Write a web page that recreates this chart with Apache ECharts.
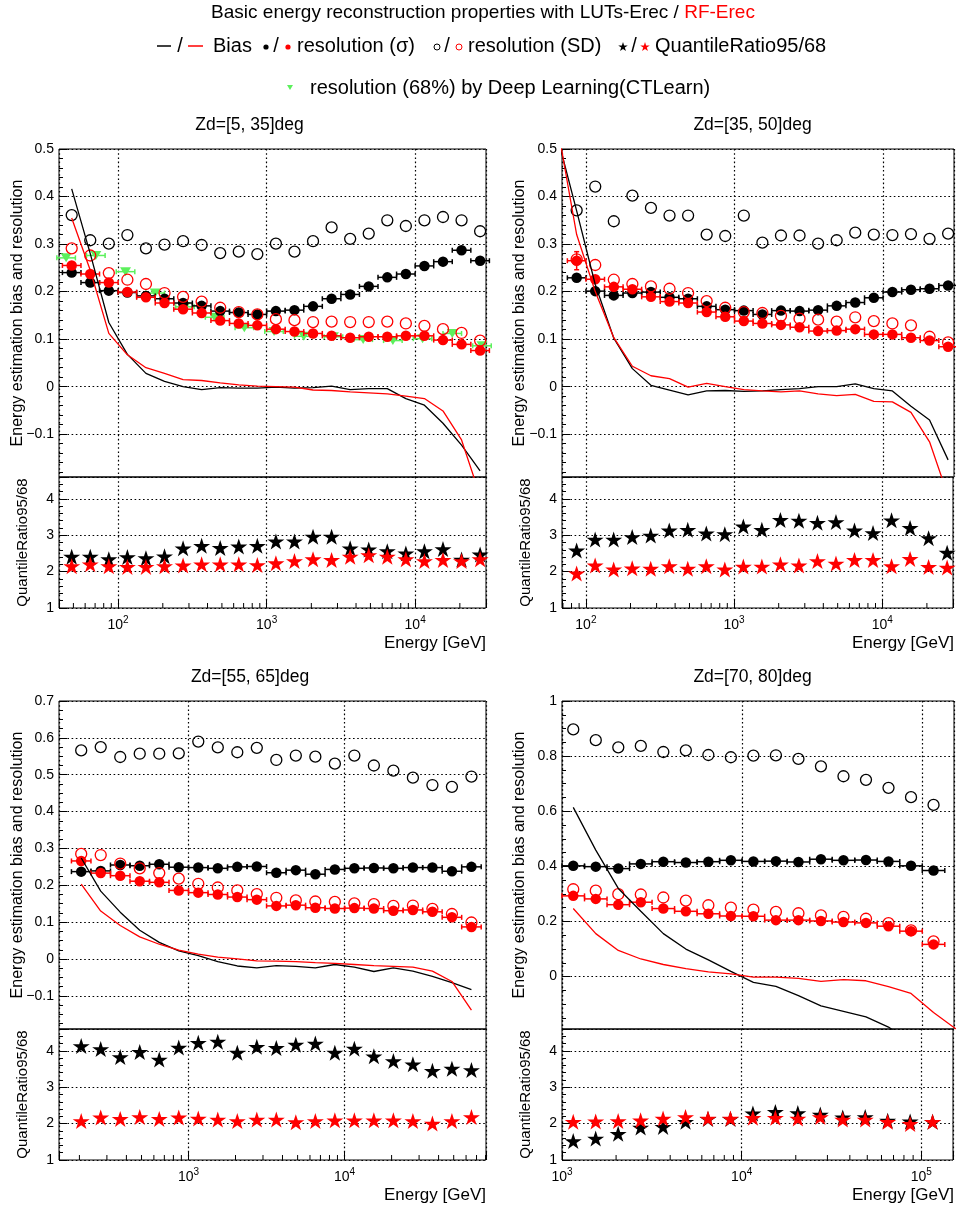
<!DOCTYPE html>
<html><head><meta charset="utf-8">
<script src="https://cdn.jsdelivr.net/npm/echarts@6/dist/echarts.min.js"></script>
<style>html,body{margin:0;padding:0;background:#fff}#c{width:956px;height:1211px}</style>
</head><body><div id="c"></div>
<script>
// ---------------- DATA (log10 of bin-centre energy in GeV) ----------------
// Panel 1  Zd=[5, 35]deg
const P1_LOGE = [1.6875,1.8125,1.9375,2.0625,2.1875,2.3125,2.4375,2.5625,2.6875,2.8125,2.9375,3.0625,3.1875,3.3125,3.4375,3.5625,3.6875,3.8125,3.9375,4.0625,4.1875,4.3125,4.4375];
const P1_SD_LUT  = [0.361,0.308,0.301,0.319,0.291,0.299,0.306,0.298,0.281,0.284,0.279,0.301,0.284,0.306,0.335,0.311,0.322,0.350,0.338,0.350,0.357,0.350,0.327];
const P1_SIG_LUT = [0.240,0.219,0.202,0.198,0.191,0.185,0.176,0.170,0.159,0.156,0.152,0.159,0.161,0.169,0.185,0.194,0.211,0.230,0.237,0.254,0.263,0.287,0.265];
const P1_SD_RF   = [0.291,0.276,0.239,0.225,0.216,0.197,0.189,0.179,0.166,0.157,0.152,0.142,0.140,0.136,0.137,0.136,0.136,0.137,0.133,0.128,0.121,0.113,0.097];
const P1_SIG_RF  = [0.255,0.237,0.219,0.199,0.188,0.176,0.163,0.155,0.139,0.133,0.129,0.121,0.116,0.112,0.107,0.103,0.105,0.105,0.107,0.107,0.098,0.089,0.076];
const P1_BIAS_LOGE = P1_LOGE;
const P1_BIAS_LUT = [0.416,0.280,0.135,0.068,0.028,0.011,0.000,-0.006,-0.002,-0.003,-0.003,-0.001,-0.003,-0.002,0.001,-0.006,-0.004,-0.004,-0.025,-0.039,-0.077,-0.123,-0.177];
const P1_BIAS_RF  = [0.355,0.245,0.112,0.067,0.040,0.028,0.015,0.013,0.008,0.004,0.001,0.000,-0.001,-0.007,-0.008,-0.011,-0.013,-0.015,-0.020,-0.025,-0.051,-0.112,-0.230];
const P1_QR_LUT = [2.41,2.41,2.34,2.40,2.37,2.42,2.64,2.71,2.65,2.69,2.71,2.83,2.83,2.96,2.96,2.64,2.61,2.56,2.50,2.56,2.62,2.33,2.47];
const P1_QR_RF  = [2.15,2.20,2.15,2.13,2.13,2.15,2.17,2.20,2.20,2.20,2.18,2.23,2.29,2.34,2.32,2.41,2.45,2.41,2.34,2.29,2.32,2.29,2.34];
const P1_DL_LOGE = [1.65,1.85,2.05,2.25,2.45,2.65,2.85,3.05,3.25,3.45,3.65,3.85,4.05,4.25,4.45];
const P1_DL_RES  = [0.271,0.276,0.242,0.197,0.168,0.146,0.124,0.116,0.106,0.105,0.099,0.097,0.101,0.112,0.086];

// Panel 2  Zd=[35, 50]deg
const P2_LOGE = [1.9375,2.0625,2.1875,2.3125,2.4375,2.5625,2.6875,2.8125,2.9375,3.0625,3.1875,3.3125,3.4375,3.5625,3.6875,3.8125,3.9375,4.0625,4.1875,4.3125,4.4375];
const P2_SD_LUT  = [0.371,0.421,0.348,0.402,0.376,0.360,0.360,0.320,0.317,0.360,0.303,0.318,0.318,0.301,0.308,0.324,0.320,0.319,0.321,0.311,0.322];
const P2_SIG_LUT = [0.229,0.201,0.192,0.197,0.199,0.188,0.185,0.169,0.162,0.160,0.152,0.160,0.159,0.161,0.170,0.177,0.187,0.199,0.204,0.206,0.213];
const P2_SD_RF   = [0.268,0.256,0.225,0.216,0.211,0.206,0.197,0.180,0.166,0.157,0.155,0.149,0.143,0.141,0.137,0.146,0.138,0.133,0.129,0.105,0.093];
const P2_SIG_RF  = [0.265,0.226,0.210,0.205,0.189,0.179,0.176,0.157,0.147,0.138,0.133,0.130,0.125,0.117,0.118,0.121,0.110,0.110,0.103,0.097,0.084];
const P2_SIG_RF_YERR = [0.019];
const P2_BIAS_LOGE = [1.8125,1.9375,2.0625,2.1875,2.3125,2.4375,2.5625,2.6875,2.8125,2.9375,3.0625,3.1875,3.3125,3.4375,3.5625,3.6875,3.8125,3.9375,4.0625,4.1875,4.3125,4.4375];
const P2_BIAS_LUT = [0.52,0.37,0.215,0.102,0.038,0.003,-0.007,-0.017,-0.009,-0.008,-0.010,-0.009,-0.006,-0.004,0.000,0.000,0.006,-0.004,-0.009,-0.041,-0.070,-0.154];
const P2_BIAS_RF  = [0.54,0.32,0.200,0.103,0.043,0.023,0.017,-0.001,0.007,0.000,-0.006,-0.009,-0.011,-0.009,-0.015,-0.019,-0.016,-0.031,-0.032,-0.054,-0.116,-0.230];
const P2_QR_LUT = [2.58,2.88,2.88,2.95,2.99,3.13,3.15,3.05,3.03,3.24,3.15,3.42,3.40,3.34,3.36,3.13,3.06,3.41,3.20,2.92,2.52];
const P2_QR_RF  = [1.95,2.17,2.06,2.09,2.08,2.15,2.08,2.15,2.06,2.14,2.14,2.20,2.17,2.29,2.22,2.32,2.32,2.15,2.35,2.13,2.11];

// Panel 3  Zd=[55, 65]deg
const P3_LOGE = [2.3125,2.4375,2.5625,2.6875,2.8125,2.9375,3.0625,3.1875,3.3125,3.4375,3.5625,3.6875,3.8125,3.9375,4.0625,4.1875,4.3125,4.4375,4.5625,4.6875,4.8125];
const P3_SD_LUT  = [0.566,0.575,0.548,0.557,0.557,0.558,0.590,0.574,0.561,0.573,0.540,0.552,0.549,0.530,0.552,0.525,0.511,0.492,0.472,0.467,0.495];
const P3_SIG_LUT = [0.237,0.239,0.255,0.253,0.257,0.249,0.248,0.246,0.250,0.251,0.234,0.241,0.230,0.243,0.246,0.247,0.246,0.248,0.248,0.238,0.250];
const P3_SD_RF   = [0.285,0.282,0.259,0.246,0.233,0.218,0.204,0.194,0.186,0.176,0.166,0.159,0.156,0.155,0.151,0.149,0.144,0.145,0.136,0.122,0.099];
const P3_SIG_RF  = [0.266,0.233,0.226,0.211,0.208,0.186,0.180,0.175,0.168,0.161,0.144,0.146,0.139,0.137,0.138,0.137,0.131,0.133,0.128,0.113,0.087];
const P3_BIAS_LOGE = P3_LOGE;
const P3_BIAS_LUT = [0.274,0.184,0.127,0.078,0.045,0.022,0.009,-0.007,-0.019,-0.024,-0.018,-0.020,-0.024,-0.015,-0.022,-0.034,-0.024,-0.033,-0.047,-0.064,-0.083];
const P3_BIAS_RF  = [0.203,0.130,0.091,0.060,0.040,0.024,0.013,0.005,0.000,-0.005,-0.006,-0.007,-0.010,-0.012,-0.015,-0.018,-0.020,-0.022,-0.033,-0.061,-0.139];
const P3_QR_LUT = [4.13,4.05,3.83,3.97,3.76,4.09,4.22,4.25,3.95,4.11,4.08,4.17,4.20,3.95,4.06,3.85,3.72,3.63,3.45,3.51,3.47];
const P3_QR_RF  = [2.07,2.17,2.13,2.18,2.13,2.17,2.14,2.11,2.07,2.11,2.11,2.04,2.07,2.09,2.09,2.09,2.09,2.07,2.00,2.07,2.18];

// Panel 4  Zd=[70, 80]deg
const P4_LOGE = [3.0625,3.1875,3.3125,3.4375,3.5625,3.6875,3.8125,3.9375,4.0625,4.1875,4.3125,4.4375,4.5625,4.6875,4.8125,4.9375,5.0625];
const P4_SD_LUT  = [0.897,0.858,0.832,0.837,0.815,0.821,0.804,0.796,0.802,0.803,0.790,0.763,0.727,0.714,0.685,0.651,0.623];
const P4_SIG_LUT = [0.402,0.399,0.392,0.409,0.417,0.414,0.417,0.422,0.418,0.419,0.416,0.426,0.422,0.423,0.418,0.402,0.385];
const P4_SD_RF   = [0.317,0.312,0.299,0.298,0.287,0.276,0.259,0.250,0.243,0.235,0.230,0.222,0.217,0.210,0.194,0.168,0.128];
const P4_SIG_RF  = [0.293,0.282,0.261,0.270,0.247,0.237,0.228,0.220,0.219,0.205,0.205,0.202,0.198,0.195,0.183,0.165,0.117];
const P4_BIAS_LOGE = [3.0625,3.1875,3.3125,3.4375,3.5625,3.6875,3.8125,3.9375,4.0625,4.1875,4.3125,4.4375,4.5625,4.6875,4.8125,4.9375,5.0625,5.1875];
const P4_BIAS_LUT = [0.614,0.459,0.320,0.237,0.156,0.100,0.061,0.019,-0.021,-0.035,-0.069,-0.106,-0.126,-0.146,-0.183,-0.240,-0.300,-0.360];
const P4_BIAS_RF  = [0.247,0.156,0.095,0.064,0.044,0.029,0.017,0.010,-0.002,-0.002,-0.006,-0.017,-0.011,-0.015,-0.036,-0.061,-0.130,-0.190];
const P4_QR_LUT = [1.52,1.59,1.72,1.89,1.91,2.05,2.13,2.13,2.28,2.32,2.29,2.25,2.17,2.18,2.08,2.06,2.05];
const P4_QR_RF  = [2.05,2.06,2.07,2.09,2.14,2.18,2.14,2.14,2.16,2.16,2.14,2.18,2.11,2.11,2.05,1.99,2.05];

const PANEL_TITLES = ['Zd=[5, 35]deg','Zd=[35, 50]deg','Zd=[55, 65]deg','Zd=[70, 80]deg'];
const MAIN_TITLE_BLACK = 'Basic energy reconstruction properties with LUTs-Erec / ';
const MAIN_TITLE_RED = 'RF-Erec';
const Y_TITLE = 'Energy estimation bias and resolution';
const R_TITLE = 'QuantileRatio95/68';
const X_TITLE = 'Energy [GeV]';

// ---------------- LAYOUT / STYLE ----------------
const FONT = '"Liberation Sans", Arial, Helvetica, sans-serif';
const RED = '#ff0000', BLK = '#000000', GREEN = '#5cf05c';
const STAR = 'path://M0,-100L22.45,-30.9L95.1,-30.9L36.3,11.8L58.8,80.9L0,38.2L-58.8,80.9L-36.3,11.8L-95.1,-30.9L-22.45,-30.9Z';
const HALF_BIN = 0.0625;
const LAYOUT = [
  {left:59, top:149, width:427, mainH:328, ratioH:131, xmin:40,   xmax:30000,  ymax:0.5, ystep:0.1, yminor:5, tx:249.5, ty:125, ytx:18, rtx:23},
  {left:562,top:149, width:392, mainH:328, ratioH:131, xmin:69,   xmax:30000,  ymax:0.5, ystep:0.1, yminor:5, tx:752.5, ty:125, ytx:520, rtx:526},
  {left:59, top:701, width:427, mainH:328, ratioH:131, xmin:148,  xmax:80500,  ymax:0.7, ystep:0.1, yminor:4, tx:250,   ty:677, ytx:18, rtx:23},
  {left:562,top:701, width:392, mainH:328, ratioH:131, xmin:1000, xmax:150000, ymax:1.0, ystep:0.2, yminor:4, tx:752.5, ty:677, ytx:520, rtx:526}
];
const YMIN = -0.19, RMIN = 1, RMAX = 4.6;

const PANELS = [
  {x:P1_LOGE, sdL:P1_SD_LUT, sigL:P1_SIG_LUT, sdR:P1_SD_RF, sigR:P1_SIG_RF, bx:P1_BIAS_LOGE, bL:P1_BIAS_LUT, bR:P1_BIAS_RF, qL:P1_QR_LUT, qR:P1_QR_RF, dlx:P1_DL_LOGE, dly:P1_DL_RES},
  {x:P2_LOGE, sdL:P2_SD_LUT, sigL:P2_SIG_LUT, sdR:P2_SD_RF, sigR:P2_SIG_RF, sigRerr:P2_SIG_RF_YERR, bx:P2_BIAS_LOGE, bL:P2_BIAS_LUT, bR:P2_BIAS_RF, qL:P2_QR_LUT, qR:P2_QR_RF},
  {x:P3_LOGE, sdL:P3_SD_LUT, sigL:P3_SIG_LUT, sdR:P3_SD_RF, sigR:P3_SIG_RF, bx:P3_BIAS_LOGE, bL:P3_BIAS_LUT, bR:P3_BIAS_RF, qL:P3_QR_LUT, qR:P3_QR_RF},
  {x:P4_LOGE, sdL:P4_SD_LUT, sigL:P4_SIG_LUT, sdR:P4_SD_RF, sigR:P4_SIG_RF, bx:P4_BIAS_LOGE, bL:P4_BIAS_LUT, bR:P4_BIAS_RF, qL:P4_QR_LUT, qR:P4_QR_RF}
];

const E = l => Math.pow(10, l);
const pts = (lx, ys) => lx.map((l, i) => [E(l), ys[i]]);
const errPts = (lx, ys, ye) => lx.map((l, i) => [E(l - HALF_BIN), E(l + HALF_BIN), ys[i], (ye && ye[i]) || 0, E(l)]);

function yFmt(step) {
  return v => {
    const r = Math.round(v / step) * step;
    if (Math.abs(v - r) > 1e-6) return '';
    const t = parseFloat(r.toFixed(2));
    if (t === 0) return '0';
    return t < 0 ? '\u2212' + (-t) : String(t);
  };
}
function xFmt(v) {
  const e = Math.log10(v), r = Math.round(e);
  if (Math.abs(e - r) > 1e-6) return '';
  return '{b|10}{s|' + r + '}';
}
function errRender(color) {
  return function (params, api) {
    const y = api.value(2);
    const a = api.coord([api.value(0), y]), b = api.coord([api.value(1), y]);
    const st = {stroke: color, lineWidth: 1.5};
    const c = 2.5;
    const ch = [
      {type:'line', shape:{x1:a[0], y1:a[1], x2:b[0], y2:b[1]}, style:st},
      {type:'line', shape:{x1:a[0], y1:a[1]-c, x2:a[0], y2:a[1]+c}, style:st},
      {type:'line', shape:{x1:b[0], y1:b[1]-c, x2:b[0], y2:b[1]+c}, style:st}
    ];
    const ye = api.value(3);
    if (ye) {
      const t = api.coord([api.value(4), y + ye]), u = api.coord([api.value(4), y - ye]);
      ch.push({type:'line', shape:{x1:t[0], y1:t[1], x2:u[0], y2:u[1]}, style:st});
      ch.push({type:'line', shape:{x1:t[0]-c, y1:t[1], x2:t[0]+c, y2:t[1]}, style:st});
      ch.push({type:'line', shape:{x1:u[0]-c, y1:u[1], x2:u[0]+c, y2:u[1]}, style:st});
    }
    return {type:'group', children: ch};
  };
}
function minorTickRender(params, api) {
  const p = api.coord([api.value(0), api.value(1)]);
  return {type:'line', shape:{x1:p[0], y1:p[1], x2:p[0], y2:p[1]-5}, style:{stroke:'#000', lineWidth:1}};
}
function logMinorTicks(lo, hi) {
  const out = [];
  for (let k = Math.floor(Math.log10(lo)); k <= Math.ceil(Math.log10(hi)); k++)
    for (let m = 2; m <= 9; m++) { const v = m * Math.pow(10, k); if (v > lo && v < hi) out.push([v, RMIN]); }
  return out;
}

const dotted = {type:[1.6, 2.6], color:'#000', width:1.2};
const grids = [], xAxes = [], yAxes = [], series = [], graphics = [];

LAYOUT.forEach((L, p) => {
  const D = PANELS[p];
  const gm = 2 * p, gr = 2 * p + 1;
  grids.push({left:L.left, top:L.top, width:L.width, height:L.mainH, show:true, borderColor:'#000', borderWidth:1, backgroundColor:'transparent'});
  grids.push({left:L.left, top:L.top + L.mainH, width:L.width, height:L.ratioH, show:true, borderColor:'#000', borderWidth:1, backgroundColor:'transparent'});
  const xBase = {type:'log', logBase:10, min:L.xmin, max:L.xmax, axisLine:{show:false}, splitLine:{show:true, lineStyle:dotted}, minorTick:{show:false}};
  xAxes.push(Object.assign({}, xBase, {gridIndex:gm, axisLabel:{show:false}, axisTick:{show:false}}));
  xAxes.push(Object.assign({}, xBase, {gridIndex:gr,
    axisTick:{show:true, inside:true, length:9, lineStyle:{color:'#000'}},
    axisLabel:{show:true, margin:7, formatter:xFmt, rich:{
      b:{fontFamily:FONT, fontSize:14, color:'#000', lineHeight:20},
      s:{fontFamily:FONT, fontSize:10, color:'#000', lineHeight:10, verticalAlign:'top'}}}}));
  yAxes.push({type:'value', gridIndex:gm, min:YMIN, max:L.ymax, splitNumber:Math.round((L.ymax - YMIN) / L.ystep), minInterval:L.ystep, maxInterval:L.ystep,
    axisLine:{show:false}, axisTick:{show:true, inside:true, length:8, lineStyle:{color:'#000'}},
    minorTick:{show:true, splitNumber:L.yminor, length:4, lineStyle:{color:'#000'}},
    splitLine:{show:true, lineStyle:dotted},
    axisLabel:{margin:5, fontFamily:FONT, fontSize:14, color:'#000', formatter:yFmt(L.ystep)}});
  yAxes.push({type:'value', gridIndex:gr, min:RMIN, max:RMAX, splitNumber:4, minInterval:1, maxInterval:1,
    axisLine:{show:false}, axisTick:{show:true, inside:true, length:8, lineStyle:{color:'#000'}},
    minorTick:{show:true, splitNumber:5, length:4, lineStyle:{color:'#000'}},
    splitLine:{show:true, lineStyle:dotted},
    axisLabel:{margin:5, fontFamily:FONT, fontSize:14, color:'#000', formatter:yFmt(1)}});

  const onMain = {xAxisIndex:gm, yAxisIndex:gm};
  const onRatio = {xAxisIndex:gr, yAxisIndex:gr};
  if (D.dlx) {
    series.push(Object.assign({type:'custom', z:2, renderItem:errRender(GREEN), encode:{x:[0,1], y:2}, data:errPts(D.dlx, D.dly)}, onMain));
    series.push(Object.assign({type:'scatter', z:2, symbol:'triangle', symbolRotate:180, symbolSize:[11,9], itemStyle:{color:GREEN, opacity:1}, data:pts(D.dlx, D.dly)}, onMain));
  }
  series.push(Object.assign({type:'scatter', z:3, symbol:'circle', symbolSize:11, itemStyle:{color:'rgba(0,0,0,0)', borderColor:BLK, borderWidth:1.3, opacity:1}, data:pts(D.x, D.sdL)}, onMain));
  series.push(Object.assign({type:'custom', z:4, renderItem:errRender(BLK), encode:{x:[0,1], y:2}, data:errPts(D.x, D.sigL)}, onMain));
  series.push(Object.assign({type:'scatter', z:5, symbol:'circle', symbolSize:10.5, itemStyle:{color:BLK, opacity:1}, data:pts(D.x, D.sigL)}, onMain));
  series.push(Object.assign({type:'scatter', z:6, symbol:'circle', symbolSize:11, itemStyle:{color:'rgba(0,0,0,0)', borderColor:RED, borderWidth:1.3, opacity:1}, data:pts(D.x, D.sdR)}, onMain));
  series.push(Object.assign({type:'custom', z:7, renderItem:errRender(RED), encode:{x:[0,1], y:2}, data:errPts(D.x, D.sigR, D.sigRerr)}, onMain));
  series.push(Object.assign({type:'scatter', z:8, symbol:'circle', symbolSize:10.5, itemStyle:{color:RED, opacity:1}, data:pts(D.x, D.sigR)}, onMain));
  series.push(Object.assign({type:'line', z:9, showSymbol:false, symbol:'none', clip:true, lineStyle:{color:BLK, width:1.3}, data:pts(D.bx, D.bL)}, onMain));
  series.push(Object.assign({type:'line', z:9, showSymbol:false, symbol:'none', clip:true, lineStyle:{color:RED, width:1.3}, data:pts(D.bx, D.bR)}, onMain));
  series.push(Object.assign({type:'scatter', z:3, symbol:STAR, symbolSize:[17,16], itemStyle:{color:BLK, opacity:1}, data:pts(D.x, D.qL)}, onRatio));
  series.push(Object.assign({type:'scatter', z:4, symbol:STAR, symbolSize:[17,16], itemStyle:{color:RED, opacity:1}, data:pts(D.x, D.qR)}, onRatio));
  series.push(Object.assign({type:'custom', z:2, renderItem:minorTickRender, encode:{x:0, y:1}, data:logMinorTicks(L.xmin, L.xmax), silent:true}, onRatio));

  // text
  graphics.push({type:'text', x:L.tx, y:L.ty, style:{text:PANEL_TITLES[p], fontFamily:FONT, fontSize:17.5, fill:'#000', textAlign:'center', textVerticalAlign:'middle'}});
  graphics.push({type:'text', x:L.ytx, y:L.top + L.mainH / 2, rotation:Math.PI / 2, style:{text:Y_TITLE, fontFamily:FONT, fontSize:16, fill:'#000', textAlign:'center', textVerticalAlign:'middle'}});
  graphics.push({type:'text', x:L.rtx, y:L.top + L.mainH + L.ratioH / 2, rotation:Math.PI / 2, style:{text:R_TITLE, fontFamily:FONT, fontSize:15, fill:'#000', textAlign:'center', textVerticalAlign:'middle'}});
  graphics.push({type:'text', x:L.left + L.width, y:L.top + L.mainH + L.ratioH + 35, style:{text:X_TITLE, fontFamily:FONT, fontSize:17, fill:'#000', textAlign:'right', textVerticalAlign:'middle'}});
});

// header / legend
function starPoly(cx, cy, R) {
  const pts2 = [];
  for (let i = 0; i < 10; i++) {
    const r = i % 2 === 0 ? R : R * 0.382;
    const a = -Math.PI / 2 + i * Math.PI / 5;
    pts2.push([cx + r * Math.cos(a), cy + r * Math.sin(a)]);
  }
  return pts2;
}
const LG = 46, LG2 = 88, LF = 20;
const lgText = (x, y, t, align) => ({type:'text', x:x, y:y, style:{text:t, fontFamily:FONT, fontSize:LF, fill:'#000', textAlign:align || 'left', textVerticalAlign:'middle'}});
graphics.push({type:'text', x:483, y:13, style:{
  text:'{k|' + MAIN_TITLE_BLACK + '}{r|' + MAIN_TITLE_RED + '}', fontFamily:FONT, fontSize:19, textAlign:'center', textVerticalAlign:'middle',
  rich:{k:{fill:'#000', fontFamily:FONT, fontSize:19}, r:{fill:RED, fontFamily:FONT, fontSize:19}}}});
graphics.push({type:'line', shape:{x1:157, y1:LG, x2:171, y2:LG}, style:{stroke:BLK, lineWidth:1.5}});
graphics.push(lgText(180, LG, '/', 'center'));
graphics.push({type:'line', shape:{x1:188, y1:LG, x2:203, y2:LG}, style:{stroke:RED, lineWidth:1.5}});
graphics.push(lgText(213, LG, 'Bias'));
graphics.push({type:'circle', shape:{cx:266, cy:LG + 1, r:2.6}, style:{fill:BLK}});
graphics.push(lgText(276, LG, '/', 'center'));
graphics.push({type:'circle', shape:{cx:288, cy:LG + 1, r:2.6}, style:{fill:RED}});
graphics.push(lgText(297, LG, 'resolution (\u03c3)'));
graphics.push({type:'circle', shape:{cx:437, cy:LG + 1, r:3}, style:{fill:'none', stroke:BLK, lineWidth:1}});
graphics.push(lgText(447, LG, '/', 'center'));
graphics.push({type:'circle', shape:{cx:459, cy:LG + 1, r:3}, style:{fill:'none', stroke:RED, lineWidth:1}});
graphics.push(lgText(468, LG, 'resolution (SD)'));
graphics.push({type:'polygon', shape:{points:starPoly(623, LG + 1, 5)}, style:{fill:BLK}});
graphics.push(lgText(634, LG, '/', 'center'));
graphics.push({type:'polygon', shape:{points:starPoly(645, LG + 1, 5)}, style:{fill:RED}});
graphics.push(lgText(655, LG, 'QuantileRatio95/68'));
graphics.push({type:'polygon', shape:{points:[[287, LG2 - 3], [293, LG2 - 3], [290, LG2 + 2]]}, style:{fill:GREEN}});
graphics.push(lgText(310, LG2, 'resolution (68%) by Deep Learning(CTLearn)'));

const chart = echarts.init(document.getElementById('c'), null, {renderer:'canvas'});
chart.setOption({
  animation:false, backgroundColor:'#ffffff',
  textStyle:{fontFamily:FONT},
  grid:grids, xAxis:xAxes, yAxis:yAxes, series:series, graphic:graphics
});
</script></body></html>
